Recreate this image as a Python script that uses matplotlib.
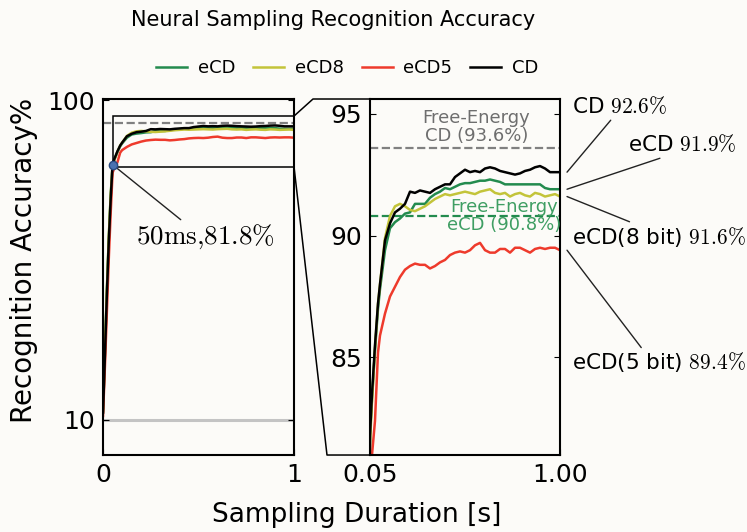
import numpy as np
import matplotlib
matplotlib.use('Agg')
import matplotlib.pyplot as plt
from matplotlib.lines import Line2D
from matplotlib.patches import Rectangle

plt.rcParams['font.family'] = ['DejaVu Sans']
plt.rcParams['mathtext.fontset'] = 'cm'

# sampling duration [s]
t = [0.0, 0.01, 0.02, 0.03, 0.04, 0.05, 0.06, 0.075, 0.09, 0.1,
     0.125, 0.15, 0.175, 0.2, 0.225, 0.25, 0.275, 0.3, 0.325, 0.35,
     0.375, 0.4, 0.425, 0.45, 0.475, 0.5, 0.525, 0.55, 0.575, 0.6,
     0.625, 0.65, 0.675, 0.7, 0.725, 0.75, 0.775, 0.8, 0.825, 0.85,
     0.875, 0.9, 0.925, 0.95, 0.975, 1.0]

acc_cd = [12, 28, 45, 60, 72, 81.8, 83.5, 85.5, 87.2, 88.0,
          89.8, 90.5, 90.95, 91.1, 91.3, 91.8, 91.75, 91.85, 91.8, 91.75,
          91.9, 92.0, 92.1, 92.1, 92.4, 92.55, 92.7, 92.6, 92.65, 92.6,
          92.75, 92.8, 92.75, 92.65, 92.6, 92.55, 92.5, 92.55, 92.65, 92.7,
          92.8, 92.85, 92.75, 92.6, 92.6, 92.6]

acc_ecd = [12, 29, 46, 61, 73, 81.8, 83.3, 85.3, 87.0, 87.8,
           89.4, 90.3, 90.55, 90.7, 90.9, 90.95, 91.3, 91.3, 91.3, 91.55,
           91.7, 91.8, 91.95, 91.9, 92.0, 92.1, 92.15, 92.15, 92.2, 92.25,
           92.25, 92.3, 92.25, 92.2, 92.1, 92.1, 92.1, 92.1, 92.1, 92.1,
           92.1, 92.1, 91.95, 91.9, 91.9, 91.9]

acc_ecd8 = [12.5, 29, 46, 61, 73, 81.5, 83.2, 85.4, 87.2, 88.0,
            89.9, 90.8, 91.2, 91.3, 91.2, 91.05, 91.0, 91.1, 91.2, 91.35,
            91.5, 91.6, 91.7, 91.65, 91.7, 91.75, 91.8, 91.75, 91.7, 91.8,
            91.85, 91.9, 91.75, 91.7, 91.75, 91.6, 91.7, 91.75, 91.65, 91.6,
            91.75, 91.7, 91.6, 91.65, 91.7, 91.6]

acc_ecd5 = [11, 25, 40, 55, 68, 79.5, 81.0, 82.4, 85.2, 85.9,
            86.8, 87.5, 87.9, 88.3, 88.6, 88.75, 88.85, 88.8, 88.8, 88.65,
            88.75, 88.9, 89.0, 89.2, 89.3, 89.35, 89.3, 89.4, 89.6, 89.7,
            89.4, 89.3, 89.3, 89.45, 89.45, 89.3, 89.5, 89.5, 89.4, 89.3,
            89.45, 89.5, 89.45, 89.5, 89.5, 89.4]

free_energy_cd = 93.6
free_energy_ecd = 90.8
chance = 10
marker_t, marker_acc = 0.05, 81.8
final_labels = [('CD ', '92.6', 92.6), ('eCD ', '91.9', 91.9),
                ('eCD(8 bit) ', '91.6', 91.6), ('eCD(5 bit) ', '89.4', 89.4)]

c_ecd = '#238b4e'
c_ecd8 = '#c3c43a'
c_ecd5 = '#ee3a2c'
c_cd = '#000000'
bg = '#fcfbf8'

fig = plt.figure(figsize=(7.47, 5.32), dpi=100, facecolor=bg)
ax1 = fig.add_axes([0.1379, 0.1447, 0.2557, 0.6692], facecolor=bg)
ax2 = fig.add_axes([0.4953, 0.1447, 0.2544, 0.6692], facecolor=bg)

series = [(acc_ecd, c_ecd, 'eCD'), (acc_ecd8, c_ecd8, 'eCD8'),
          (acc_ecd5, c_ecd5, 'eCD5'), (acc_cd, c_cd, 'CD')]

# left overview panel
ax1.axhline(chance, color='#c4c4c4', lw=2.2, zorder=1)
ax1.axhline(free_energy_cd, color='#808080', ls='--', lw=1.6, zorder=1)
for y, c, lab in series:
    ax1.plot(t, y, color=c, lw=1.8, label=lab)
ax1.add_patch(Rectangle((0.05, 81.2), 0.95, 14.3, fill=False, ec='black', lw=1.1, zorder=4))
ax1.plot([marker_t], [marker_acc], 'o', color='#4a72b0', ms=6, mec='#2a4a80', zorder=5)
ax1.annotate(r'$\mathrm{50ms{,}81.8\%}$', xy=(marker_t, marker_acc), xytext=(0.534, 61.5),
             fontsize=19.5, ha='center', va='center',
             arrowprops=dict(arrowstyle='-', color='#222222', lw=1.0,
                             shrinkA=0, shrinkB=0, relpos=(0.35, 1.0)))
ax1.set_xlim(0, 1)
ax1.set_ylim(0, 100.3)
ax1.set_xticks([0, 1])
ax1.set_xticklabels(['0', '1'])
ax1.set_yticks([10, 100])
ax1.set_yticklabels(['10', '100'])

# right zoomed panel
ax2.axhline(free_energy_cd, color='#808080', ls='--', lw=1.6, zorder=1)
ax2.axhline(free_energy_ecd, color=c_ecd, ls='--', lw=1.6, zorder=1)
for y, c, lab in series:
    ax2.plot(t, y, color=c, lw=1.8)
ax2.text(0.5825, free_energy_cd + 0.1, 'Free-Energy\nCD (93.6%)', color='#6e6e6e',
         fontsize=13, ha='center', va='bottom', linespacing=1.0)
ax2.text(0.72, free_energy_ecd, 'Free-Energy\neCD (90.8%)', color='#3f9e63',
         fontsize=13, ha='center', va='center', linespacing=1.0)
ax2.set_xlim(0.05, 1.0)
ax2.set_ylim(81, 95.6)
ax2.set_xticks([0.05, 1.0])
ax2.set_xticklabels(['0.05', '1.00'])
ax2.set_yticks([85, 90, 95])
ax2.set_yticklabels(['85', '90', '95'])

text_pos = [(1.06, 95.29, (0.43, 0.0)), (1.34, 93.73, (0.37, 0.0)),
            (1.06, 89.96, (0.37, 1.0)), (1.06, 84.8, (0.41, 1.0))]
for (name, val, y), (tx, ty, rp) in zip(final_labels, text_pos):
    ax2.annotate(name + r'$' + val + r'\%$', xy=(1.035, y), xytext=(tx, ty),
                 fontsize=15.5, ha='left', va='center', annotation_clip=False,
                 arrowprops=dict(arrowstyle='-', color='#222222', lw=1.0,
                                 shrinkA=0, shrinkB=0, relpos=rp))

for ax in (ax1, ax2):
    for s in ax.spines.values():
        s.set_linewidth(1.5)
    ax.tick_params(direction='in', right=True, top=False, labelsize=18,
                   length=4, pad=6)

# connector between the zoom box and the right panel
fig.canvas.draw()
inv = fig.transFigure.inverted()
top_corner = ax1.transData.transform((1.0, 95.5))
bot_corner = ax1.transData.transform((1.0, 81.2))
ax2_tl = ax2.transAxes.transform((0, 1))
ax2_bl = ax2.transAxes.transform((0, 0))
top_pts = [top_corner, (ax2_tl[0] - 57, ax2_tl[1]), ax2_tl]
bot_pts = [bot_corner, (ax2_bl[0] - 43, ax2_bl[1]), ax2_bl]
for pts in (top_pts, bot_pts):
    fp = inv.transform(np.array(pts))
    fig.add_artist(Line2D(fp[:, 0], fp[:, 1], color='black', lw=1.1))

fig.text(0.446, 0.962, 'Neural Sampling Recognition Accuracy', fontsize=15,
         ha='center', va='center')
handles, labels = ax1.get_legend_handles_labels()
fig.legend(handles, labels, loc='center', bbox_to_anchor=(0.465, 0.872), ncol=4,
           frameon=False, fontsize=13, handlelength=1.7, handletextpad=0.6,
           columnspacing=1.0)
fig.text(0.478, 0.032, 'Sampling Duration [s]', fontsize=19, ha='center', va='center')
fig.text(0.032, 0.51, 'Recognition Accuracy%', fontsize=20, rotation=90,
         ha='center', va='center')

fig.savefig('out.png', dpi=100, facecolor=bg)
